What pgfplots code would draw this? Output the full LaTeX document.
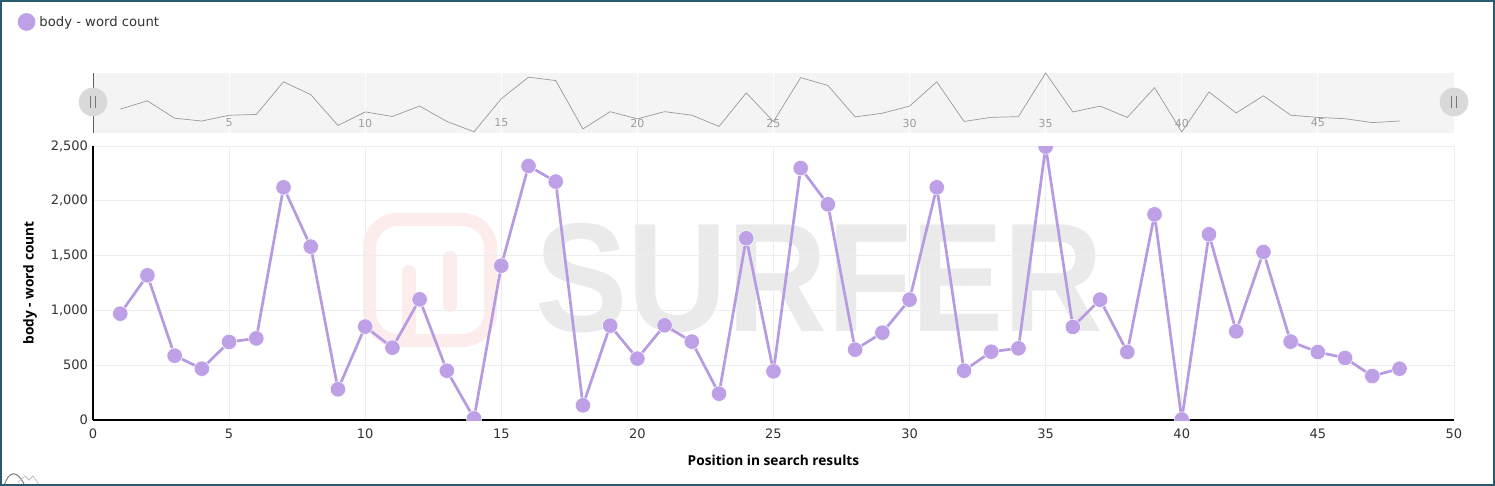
\documentclass[border=0pt]{standalone}
\usepackage{pgfplots}
\pgfplotsset{compat=1.18}
\usepackage{pgfplotstable}
\usepackage{fontspec}
\setmainfont{DejaVu Sans}
\newfontfamily\labelfont{Open Sans}
\newfontfamily\wmfont{Liberation Sans}
\definecolor{series}{HTML}{BEA0E6}
\definecolor{seriesline}{HTML}{B79BE2}
\definecolor{gridc}{HTML}{EDEDED}
\definecolor{tickc}{HTML}{333333}
\definecolor{navbg}{HTML}{F4F4F4}
\definecolor{navline}{HTML}{9A9A9A}
\definecolor{navtext}{HTML}{9E9E9E}
\definecolor{handle}{HTML}{D9D9D9}
\definecolor{handletext}{HTML}{777777}
\definecolor{border}{HTML}{2A5A6E}
\definecolor{wm}{HTML}{EAEAEA}
\definecolor{logo}{HTML}{FDECEC}

\pgfplotstableread{
x y
1 970
2 1320
3 587
4 468
5 712
6 745
7 2123
8 1582
9 280
10 852
11 660
12 1101
13 450
14 15
15 1408
16 2318
17 2175
18 134
19 861
20 560
21 864
22 715
23 240
24 1658
25 444
26 2299
27 1968
28 642
29 797
30 1098
31 2123
32 450
33 623
34 654
35 2494
36 849
37 1098
38 620
39 1876
40 5
41 1694
42 809
43 1533
44 715
45 620
46 566
47 401
48 468
}\datatable

\begin{document}
\begin{tikzpicture}
\useasboundingbox (0pt,0pt) rectangle (1495pt,-486pt);
\fill[white] (0pt,0pt) rectangle (1495pt,-486pt);

% watermark
\draw[logo, line width=13pt, rounded corners=28pt] (369.5pt,-219.5pt) rectangle (490.5pt,-340.5pt);
\draw[logo, line width=14pt, line cap=round] (409pt,-272pt) -- (409pt,-330pt);
\draw[logo, line width=14pt, line cap=round] (450pt,-258pt) -- (450pt,-305pt);
\node[anchor=south west, inner sep=0pt, text=wm] at (535pt,-333pt)
  {\resizebox{568pt}{108pt}{\wmfont\bfseries SURFER}};

% navigator
\begin{axis}[
  at={(93pt,-133pt)}, anchor=south west, scale only axis,
  width=1361pt, height=60pt,
  xmin=0, xmax=50, ymin=-37, ymax=2494,
  axis line style={draw=none},
  axis background/.style={fill=navbg},
  xtick={5,10,...,45}, ytick=\empty,
  major tick length=0pt,
  xmajorgrids, major grid style={draw=white, line width=0.8pt},
  xticklabel style={anchor=center, yshift=10pt, font=\fontsize{11}{11}\selectfont, text=navtext},
  /pgf/number format/assume math mode=true,
]
\addplot[navline, line width=0.7pt, mark=none] table[x=x,y=y]{\datatable};
\end{axis}

% main axis
\begin{axis}[
  at={(93pt,-420pt)}, anchor=south west, scale only axis,
  width=1361pt, height=274pt,
  xmin=0, xmax=50, ymin=0, ymax=2500,
  xtick={0,5,...,50}, ytick={0,500,...,2500},
  axis x line*=bottom, axis y line*=left,
  axis line style={-, draw=black, line width=1.3pt},
  major tick length=0pt,
  grid=major, major grid style={draw=gridc, line width=0.9pt},
  tick label style={font=\fontsize{13}{13}\selectfont, text=tickc},
  /pgf/number format/assume math mode=true,
  /pgf/number format/1000 sep={,},
  scaled y ticks=false,
  xticklabel style={yshift=-5pt},
  yticklabel style={xshift=-1.5pt},
  xlabel={Position in search results},
  ylabel={body - word count},
  label style={font=\labelfont\fontsize{13.7}{13.7}\selectfont\bfseries, text=black},
  xlabel style={at={(axis description cs:0.5,-0.146)}, anchor=center},
  ylabel style={at={(axis description cs:-0.0463,0.5)}, anchor=center},
  clip marker paths=true,
  legend style={at={(axis description cs:-0.05547,1.4526)}, anchor=west,
    draw=none, fill=none, inner sep=0pt, font=\fontsize{13.2}{13.2}\selectfont, text=tickc},
  legend image code/.code={\fill[series] (7.5pt,0pt) circle (7.5pt); \path (17pt,0pt);},
]
\addplot[seriesline, line width=2.7pt, mark=*, mark size=7.7pt,
  mark options={fill=series, draw=white, line width=0.5pt}]
  table[x=x,y=y]{\datatable};
\addlegendentry{body - word count}
\end{axis}

% navigator handles
\draw[handletext!80!black, line width=1pt] (93pt,-73pt) -- (93pt,-133pt);
\foreach \hx in {93,1454}{
  \fill[handle] (\hx pt,-102pt) circle (14.3pt);
  \draw[handletext, line width=0.8pt] (\hx pt-2.2pt,-96pt) -- (\hx pt-2.2pt,-108pt);
  \draw[handletext, line width=0.8pt] (\hx pt+2.2pt,-96pt) -- (\hx pt+2.2pt,-108pt);
}

% small icon bottom-left
\draw[gray, line width=1pt] (4pt,-486pt) .. controls (9pt,-470pt) and (17pt,-470pt) .. (24pt,-484pt);
\draw[gray!50, line width=0.8pt] (18pt,-482pt) -- (25pt,-476pt) -- (29pt,-480pt) -- (33pt,-476pt) -- (40pt,-486pt);

% frame
\draw[border, line width=2pt] (1pt,-1pt) rectangle (1494pt,-485pt);
\end{tikzpicture}
\end{document}
